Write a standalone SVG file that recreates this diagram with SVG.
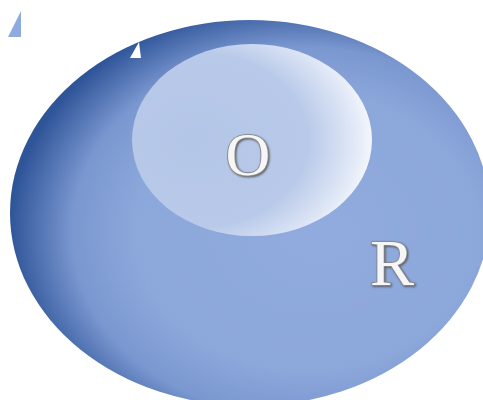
<svg xmlns="http://www.w3.org/2000/svg" width="483" height="400" viewBox="0 0 483 400">
<defs>
<radialGradient id="gOuter" cx="0.6" cy="0.55" r="0.6" fx="0.65" fy="0.55">
<stop offset="0" stop-color="#91abde"/>
<stop offset="0.6" stop-color="#8ca7da"/>
<stop offset="0.8" stop-color="#7a97d0"/>
<stop offset="1" stop-color="#2f5599"/>
</radialGradient>
<radialGradient id="gInner" cx="0.3" cy="0.5" r="0.75" fx="0.25" fy="0.5">
<stop offset="0" stop-color="#b4c6e7"/>
<stop offset="0.6" stop-color="#b8c9e9"/>
<stop offset="0.85" stop-color="#e2e9f7"/>
<stop offset="1" stop-color="#ffffff"/>
</radialGradient>
<filter id="sh" x="-20%" y="-20%" width="140%" height="140%">
<feGaussianBlur in="SourceAlpha" stdDeviation="1.2"/>
<feOffset dx="1" dy="1" result="b"/>
<feFlood flood-color="#555"/>
<feComposite in2="b" operator="in"/>
<feMerge><feMergeNode/><feMergeNode in="SourceGraphic"/></feMerge>
</filter>
<style>
.lbl{font-family:"Liberation Serif","DejaVu Serif",serif;fill:#f6f6f6;stroke:#8a8a8a;stroke-width:1.6;paint-order:stroke;text-anchor:middle;}
</style>
</defs>
<polygon points="8,37 21,11 21,37" fill="#8eaadf"/>
<g id="R">
<ellipse cx="250" cy="213" rx="240" ry="193" fill="url(#gOuter)"/>
<text class="lbl" x="392" y="285" font-size="66" filter="url(#sh)">R</text>
</g>
<polygon points="130,58 139,42 141,58" fill="#ffffff"/>
<g id="O">
<ellipse cx="252" cy="140" rx="120" ry="96" fill="url(#gInner)"/>
<text class="lbl" x="248" y="175" font-size="62" filter="url(#sh)">O</text>
</g>
<g id="connectors"/>
</svg>
